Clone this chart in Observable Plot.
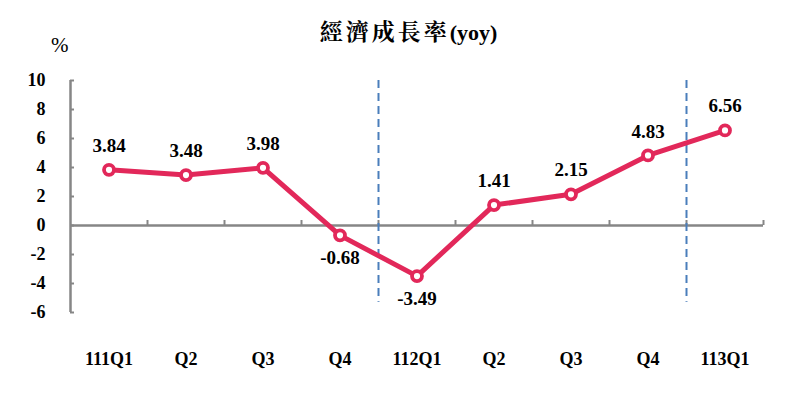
<!DOCTYPE html>
<html><head><meta charset="utf-8">
<script src="https://cdn.jsdelivr.net/npm/d3@7"></script>
<script src="https://cdn.jsdelivr.net/npm/@observablehq/plot@0.6"></script>
<style>
body{margin:0;background:#fff;}
#head{position:relative;width:785px;height:60px;}
#title{position:absolute;left:16px;width:785px;top:19px;text-align:center;font-family:"Liberation Serif","Noto Serif CJK TC","Noto Sans CJK TC",serif;font-weight:bold;font-size:22px;line-height:28px;color:#000;white-space:nowrap;}
#title .cjk{font-size:23px;letter-spacing:3px;}
#unit{position:absolute;left:51px;top:33px;font-family:"Liberation Serif",serif;font-size:21px;line-height:24px;color:#000;}
</style></head>
<body>
<div id="head"><div id="title"><span class="cjk">經濟成長率</span>(yoy)</div><div id="unit">%</div></div>
<div id="chart"></div>
<script>
const labels = ["111Q1","Q2","Q3","Q4","112Q1","Q2","Q3","Q4","113Q1"];
const values = [3.84,3.48,3.98,-0.68,-3.49,1.41,2.15,4.83,6.56];
const yTicks = [-6,-4,-2,0,2,4,6,8,10];

const data = labels.map((l,i)=>({i, label:l, v:values[i]}));
const idx = labels.map((_,i)=>i);
const bounds = labels.map((_,i)=>i+0.5);
const dividers = labels.map((l,i)=>i).filter(i=>i>0 && labels[i].length>2).map(i=>i-0.5);

const serif = "Liberation Serif, Times New Roman, serif";
const red = "#E2285A";
const gray = "#868686";
const fmt = v => v.toFixed(2);

const plot = Plot.plot({
  width: 785, height: 337,
  marginTop: 20, marginBottom: 85, marginLeft: 70, marginRight: 22,
  style: {fontFamily: serif, background: "#fff", color: "#000"},
  x: {type: "linear", domain: [-0.5, labels.length - 0.5]},
  y: {domain: [-6, 10]},
  marks: [
    Plot.axisY({ticks: yTicks, tickSize: 0, tickPadding: 25, label: null, fontSize: 18, fontWeight: "bold", tickFormat: d => String(d)}),
    Plot.axisX({ticks: idx, tickSize: 0, tickPadding: 40, label: null, fontSize: 18, fontWeight: "bold", tickFormat: i => labels[i]}),
    Plot.ruleX([-0.5], {y1: -6, y2: 10, stroke: gray, strokeWidth: 2.5}),
    Plot.ruleY(yTicks, {x1: -0.5, x2: -0.5, insetRight: -4, stroke: gray, strokeWidth: 2}),
    Plot.ruleY([0], {stroke: gray, strokeWidth: 2.5}),
    Plot.ruleX(bounds, {y1: 0, y2: 0, insetTop: -5, stroke: gray, strokeWidth: 2}),
    Plot.ruleX(dividers, {y1: 10, y2: -5.3, stroke: "#4A7EBB", strokeWidth: 2, strokeDasharray: "8,5"}),
    Plot.line(data, {x: "i", y: "v", stroke: red, strokeWidth: 5, strokeLinejoin: "round"}),
    Plot.dot(data, {x: "i", y: "v", r: 5, fill: "#fff", stroke: red, strokeWidth: 3.8}),
    Plot.text(data.filter(d => d.v >= 0), {x: "i", y: "v", text: d => fmt(d.v), dy: -24, fontSize: 19, fontWeight: "bold", fill: "#000"}),
    Plot.text(data.filter(d => d.v < 0), {x: "i", y: "v", text: d => fmt(d.v), dy: 23, fontSize: 19, fontWeight: "bold", fill: "#000"})
  ]
});
document.getElementById("chart").appendChild(plot);
</script>
</body></html>
